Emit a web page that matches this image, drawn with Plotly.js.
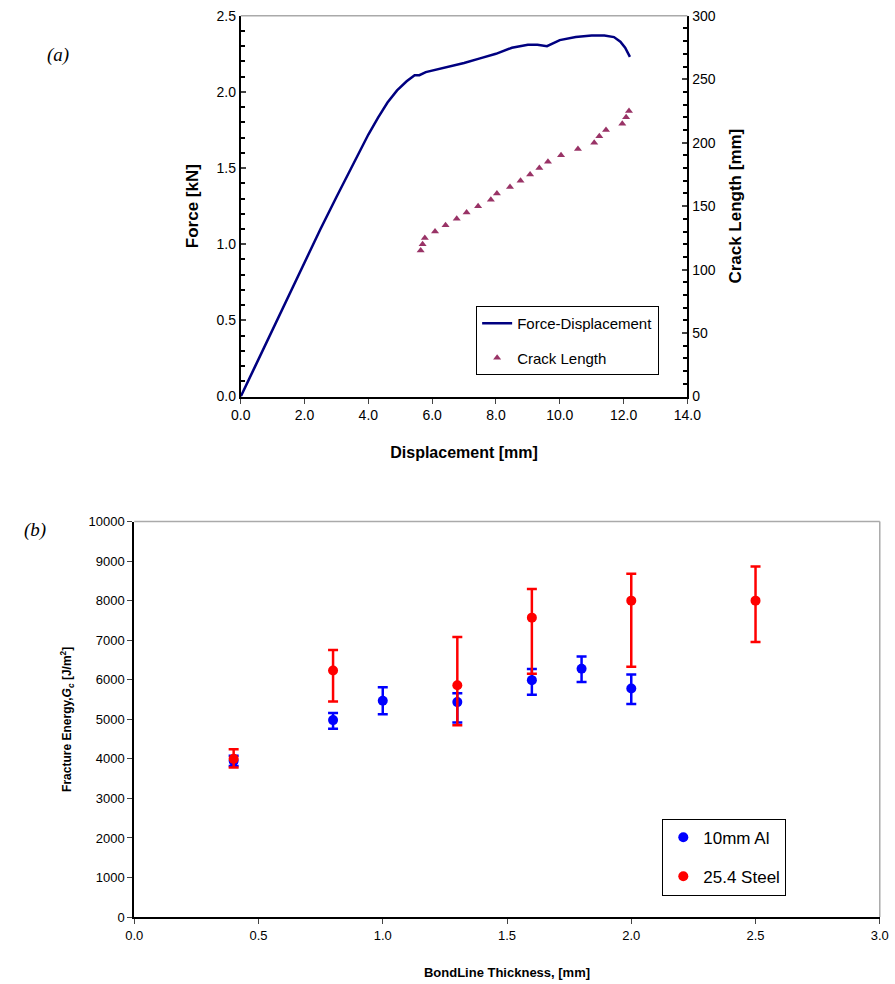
<!DOCTYPE html>
<html>
<head>
<meta charset="utf-8">
<script src="https://cdn.plot.ly/plotly-3.0.1.min.js"></script>
<style>body{margin:0;background:#fff}#chart{width:895px;height:984px}</style>
</head>
<body>
<div id="chart"></div>
<script>
// (a) force-displacement curve
var dispX = [0, 0.5, 1, 1.5, 2, 2.5, 3, 3.5, 4, 4.3, 4.6, 4.9, 5.2, 5.45, 5.6, 5.8, 6.0, 6.5, 7.0, 7.5, 8.0, 8.5, 9.0, 9.3, 9.6, 10.0, 10.5, 11.0, 11.4, 11.7, 11.9, 12.05, 12.2];
var forceY = [0, 0.22, 0.45, 0.67, 0.89, 1.1, 1.31, 1.52, 1.72, 1.83, 1.93, 2.01, 2.07, 2.11, 2.11, 2.13, 2.14, 2.16, 2.19, 2.22, 2.25, 2.29, 2.31, 2.31, 2.30, 2.34, 2.36, 2.37, 2.37, 2.36, 2.33, 2.29, 2.23];
// crack length points
var crackX = [5.64, 5.70, 5.77, 6.09, 6.42, 6.77, 7.08, 7.44, 7.84, 8.03, 8.44, 8.77, 9.07, 9.36, 9.63, 10.04, 10.57, 11.08, 11.24, 11.45, 11.96, 12.08, 12.17];
var crackY = [115, 120, 125, 130, 135, 140, 145, 150, 155, 160, 165, 170, 175, 180, 185, 190, 195, 200, 205, 210, 215, 220, 225];

// (b) fracture energy
var alX = [0.4, 0.8, 1.0, 1.3, 1.6, 1.8, 2.0];
var alY = [3950, 4980, 5470, 5435, 5990, 6280, 5780];
var alHi = [4080, 5160, 5810, 5660, 6270, 6590, 6130];
var alLo = [3820, 4760, 5130, 4920, 5620, 5940, 5390];
var stX = [0.4, 0.8, 1.3, 1.6, 2.0, 2.5];
var stY = [4000, 6235, 5860, 7570, 8000, 8000];
var stHi = [4245, 6750, 7080, 8295, 8680, 8860];
var stLo = [3780, 5450, 4850, 6150, 6330, 6955];

function plus(hi, y) { return hi.map(function (v, i) { return v - y[i]; }); }
function minus(lo, y) { return lo.map(function (v, i) { return y[i] - v; }); }

var font = 'Liberation Sans, Arial, sans-serif';

var traces = [
  {x: dispX, y: forceY, type: 'scatter', mode: 'lines', name: 'Force-Displacement', legendgroup: 'a1',
   line: {color: '#000080', width: 2.5}, xaxis: 'x', yaxis: 'y', legend: 'legend'},
  {x: crackX, y: crackY, type: 'scatter', mode: 'markers', name: 'Crack Length', legendgroup: 'a2',
   marker: {symbol: 'triangle-up', size: 7, color: '#993366'}, xaxis: 'x', yaxis: 'y3', legend: 'legend'},
  {x: alX, y: alY, type: 'scatter', mode: 'markers', name: '10mm Al', legendgroup: 'b1',
   marker: {color: '#0000ff', size: 10},
   error_y: {type: 'data', symmetric: false, array: plus(alHi, alY), arrayminus: minus(alLo, alY), color: '#0000ff', thickness: 2.5, width: 5},
   xaxis: 'x2', yaxis: 'y2', legend: 'legend2'},
  {x: stX, y: stY, type: 'scatter', mode: 'markers', name: '25.4 Steel', legendgroup: 'b2',
   marker: {color: '#ff0000', size: 10},
   error_y: {type: 'data', symmetric: false, array: plus(stHi, stY), arrayminus: minus(stLo, stY), color: '#ff0000', thickness: 2.5, width: 5},
   xaxis: 'x2', yaxis: 'y2', legend: 'legend2'}
];

var layout = {
  width: 895, height: 984,
  margin: {l: 0, r: 0, t: 0, b: 0},
  paper_bgcolor: '#fff', plot_bgcolor: '#fff',
  font: {family: font, size: 14, color: '#000'},
  xaxis: {domain: [0.269, 0.768], range: [0, 14], dtick: 2, tickformat: '.1f',
    ticks: 'outside', ticklen: 5, showline: true, linecolor: '#000', linewidth: 2, showgrid: false, zeroline: false,
    anchor: 'y', title: {text: '<b>Displacement [mm]</b>', font: {size: 16}, standoff: 24}},
  yaxis: {domain: [0.597, 0.984], range: [0, 2.5], dtick: 0.5, tickformat: '.1f',
    minor: {dtick: 0.1, ticks: 'inside', ticklen: 4, tickwidth: 2, tickcolor: '#000'},
    ticks: 'inside', ticklen: 5, tickwidth: 2, showline: true, linecolor: '#000', linewidth: 2, showgrid: false, zeroline: false,
    anchor: 'x', title: {text: '<b>Force [kN]</b>', font: {size: 17}, standoff: 14}},
  yaxis3: {overlaying: 'y', side: 'right', anchor: 'x', range: [0, 300], dtick: 50,
    minor: {dtick: 10, ticks: 'inside', ticklen: 4, tickwidth: 2, tickcolor: '#000'},
    ticks: 'inside', ticklen: 5, tickwidth: 2, showline: true, linecolor: '#000', linewidth: 2, showgrid: false, zeroline: false,
    title: {text: '<b>Crack Length [mm]</b>', font: {size: 17}, standoff: 14}},
  xaxis2: {domain: [0.150, 0.983], range: [0, 3], dtick: 0.5, tickformat: '.1f',
    ticks: 'outside', ticklen: 5, showline: true, linecolor: '#000', linewidth: 2, mirror: false, showgrid: false, zeroline: false,
    anchor: 'y2', tickfont: {size: 13}, title: {text: '<b>BondLine Thickness, [mm]</b>', font: {size: 13}, standoff: 26}},
  yaxis2: {domain: [0.068, 0.470], range: [0, 10000], dtick: 1000, tickformat: 'd',
    ticks: 'outside', ticklen: 5, showline: true, linecolor: '#000', linewidth: 2, showgrid: false, zeroline: false,
    anchor: 'x2', tickfont: {size: 13}, title: {text: '<b>Fracture Energy,<i>G<sub>c</sub></i> [J/m<sup>2</sup>]</b>', font: {size: 12}, standoff: 14}},
  legend: {x: 0.532, y: 0.689, xanchor: 'left', yanchor: 'top', bgcolor: '#fff', bordercolor: '#000', borderwidth: 1,
    font: {size: 15}, tracegroupgap: 12, entrywidth: 180},
  legend2: {x: 0.740, y: 0.168, xanchor: 'left', yanchor: 'top', bgcolor: '#fff', bordercolor: '#000', borderwidth: 1,
    font: {size: 17}, tracegroupgap: 14, entrywidth: 170},
  shapes: [
    {type: 'line', xref: 'paper', yref: 'paper', x0: 0.269, x1: 0.768, y0: 0.984, y1: 0.984, line: {color: '#aaa', width: 1.5}},
    {type: 'line', xref: 'paper', yref: 'paper', x0: 0.150, x1: 0.983, y0: 0.470, y1: 0.470, line: {color: '#aaa', width: 1.5}},
    {type: 'line', xref: 'paper', yref: 'paper', x0: 0.983, x1: 0.983, y0: 0.068, y1: 0.470, line: {color: '#aaa', width: 1.5}}
  ],
  annotations: [
    {text: '<i>(a)</i>', xref: 'paper', yref: 'paper', x: 0.05, y: 0.957, showarrow: false, font: {family: 'Liberation Serif, Times New Roman, serif', size: 19}},
    {text: '<i>(b)</i>', xref: 'paper', yref: 'paper', x: 0.025, y: 0.461, showarrow: false, font: {family: 'Liberation Serif, Times New Roman, serif', size: 19}}
  ]
};

Plotly.newPlot('chart', traces, layout, {displayModeBar: false});
</script>
</body>
</html>
